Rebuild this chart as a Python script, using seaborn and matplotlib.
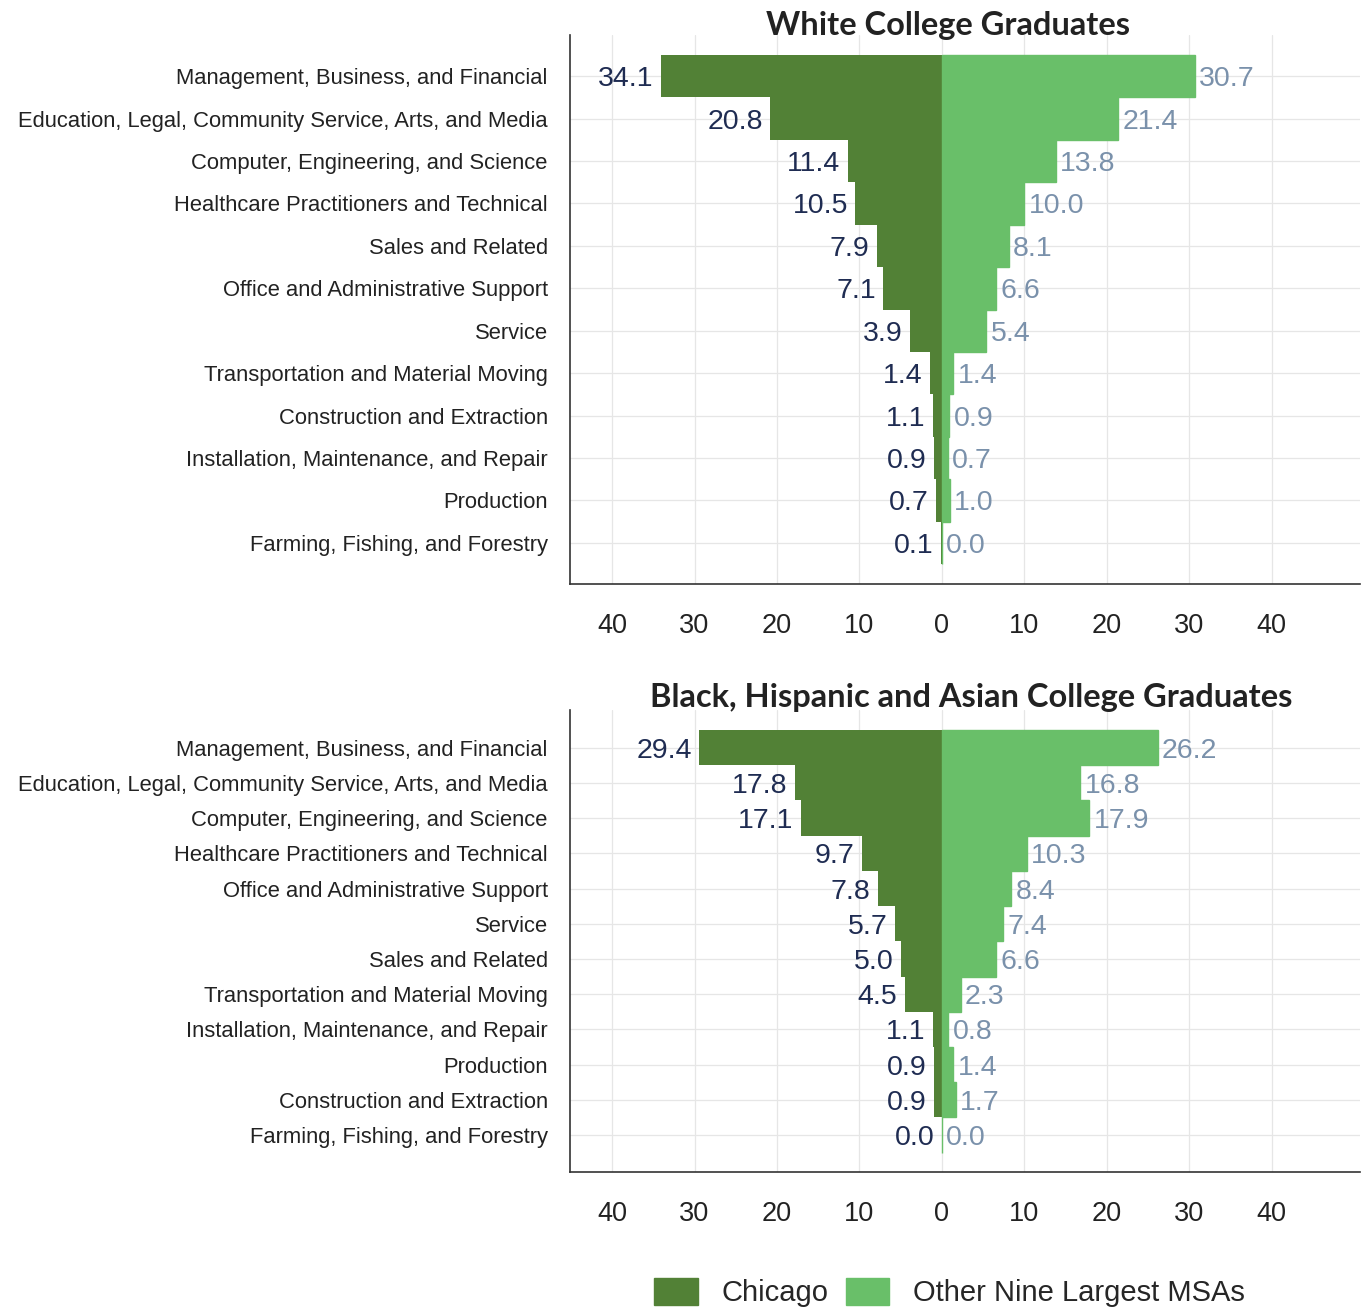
import matplotlib
matplotlib.use("Agg")
import matplotlib.pyplot as plt
import matplotlib.patches as mpatches
import seaborn as sns
import pandas as pd

# data
white_cats = [
    "Management, Business, and Financial",
    "Education, Legal, Community Service, Arts, and Media",
    "Computer, Engineering, and Science",
    "Healthcare Practitioners and Technical",
    "Sales and Related",
    "Office and Administrative Support",
    "Service",
    "Transportation and Material Moving",
    "Construction and Extraction",
    "Installation, Maintenance, and Repair",
    "Production",
    "Farming, Fishing, and Forestry",
]
white_chicago = [34.1, 20.8, 11.4, 10.5, 7.9, 7.1, 3.9, 1.4, 1.1, 0.9, 0.7, 0.1]
white_other = [30.7, 21.4, 13.8, 10.0, 8.1, 6.6, 5.4, 1.4, 0.9, 0.7, 1.0, 0.0]

minority_cats = [
    "Management, Business, and Financial",
    "Education, Legal, Community Service, Arts, and Media",
    "Computer, Engineering, and Science",
    "Healthcare Practitioners and Technical",
    "Office and Administrative Support",
    "Service",
    "Sales and Related",
    "Transportation and Material Moving",
    "Installation, Maintenance, and Repair",
    "Production",
    "Construction and Extraction",
    "Farming, Fishing, and Forestry",
]
minority_chicago = [29.4, 17.8, 17.1, 9.7, 7.8, 5.7, 5.0, 4.5, 1.1, 0.9, 0.9, 0.0]
minority_other = [26.2, 16.8, 17.9, 10.3, 8.4, 7.4, 6.6, 2.3, 0.8, 1.4, 1.7, 0.0]

tick_vals = [-40, -30, -20, -10, 0, 10, 20, 30, 40]
tick_labels = ["40", "30", "20", "10", "0", "10", "20", "30", "40"]

CHI_COLOR = "#528136"
OTH_COLOR = "#69BF69"
CHI_TEXT = "#1F2C52"
OTH_TEXT = "#7A91AB"

sns.set_style("white")
plt.rcParams["font.family"] = ["Liberation Sans", "DejaVu Sans"]

fig = plt.figure(figsize=(13.62, 13.08), dpi=100)
ax1 = fig.add_axes([0.4185, 0.5535, 0.58, 0.4197])
ax2 = fig.add_axes([0.4185, 0.1040, 0.58, 0.3532])


def pyramid(ax, cats, chi, oth, ylim, title, title_xy):
    df = pd.DataFrame({"cat": cats, "chi": [-v for v in chi], "oth": oth})
    sns.barplot(data=df, x="chi", y="cat", color=CHI_COLOR, width=1.0,
                saturation=1, linewidth=0, ax=ax, orient="h")
    sns.barplot(data=df, x="oth", y="cat", color=OTH_COLOR, width=1.0,
                saturation=1, linewidth=1, edgecolor=OTH_COLOR, ax=ax, orient="h")

    for i, (c, o) in enumerate(zip(chi, oth)):
        ax.text(-c - 0.9, i, f"{c:.1f}", ha="right", va="center_baseline",
                fontsize=20.5, color=CHI_TEXT)
        ax.text(o + 0.5, i, f"{o:.1f}", ha="left", va="center_baseline",
                fontsize=20.5, color=OTH_TEXT)

    ax.set_xlim(-45.1, 50.7)
    ax.set_ylim(*ylim)
    ax.set_xticks(tick_vals)
    ax.set_xticklabels(tick_labels, fontsize=19.5, color="#222222")
    ax.tick_params(axis="y", labelsize=15.8, colors="#222222", length=7,
                   width=1, pad=9)
    ax.tick_params(axis="x", length=7, width=1, pad=14)
    ax.set_xlabel("")
    ax.set_ylabel("")
    ax.grid(True, color="#E6E6E6", linewidth=0.9)
    ax.set_axisbelow(True)
    for s in ["top", "right"]:
        ax.spines[s].set_visible(False)
    for s in ["left", "bottom"]:
        ax.spines[s].set_color("#333333")
        ax.spines[s].set_linewidth(1.2)
    fig.text(title_xy[0], title_xy[1], title, fontsize=23.5, fontweight="bold",
             family="Lato", color="#222222", ha="center", va="center")


pyramid(ax1, white_cats, white_chicago, white_other, (11.97, -0.97),
        "White College Graduates", (948 / 1362, 1 - 25 / 1308))
pyramid(ax2, minority_cats, minority_chicago, minority_other, (12.05, -1.07),
        "Black, Hispanic and Asian College Graduates", (971 / 1362, 1 - 697 / 1308))

handles = [mpatches.Patch(color=CHI_COLOR, label="Chicago"),
           mpatches.Patch(color=OTH_COLOR, label="Other Nine Largest MSAs")]
fig.legend(handles=handles, loc="center", bbox_to_anchor=(0.697, 0.0115),
           ncol=2, frameon=False, fontsize=21, handlelength=1.5,
           handleheight=1.0, columnspacing=0.6, handletextpad=0.8)

fig.savefig("out.png", dpi=100)
